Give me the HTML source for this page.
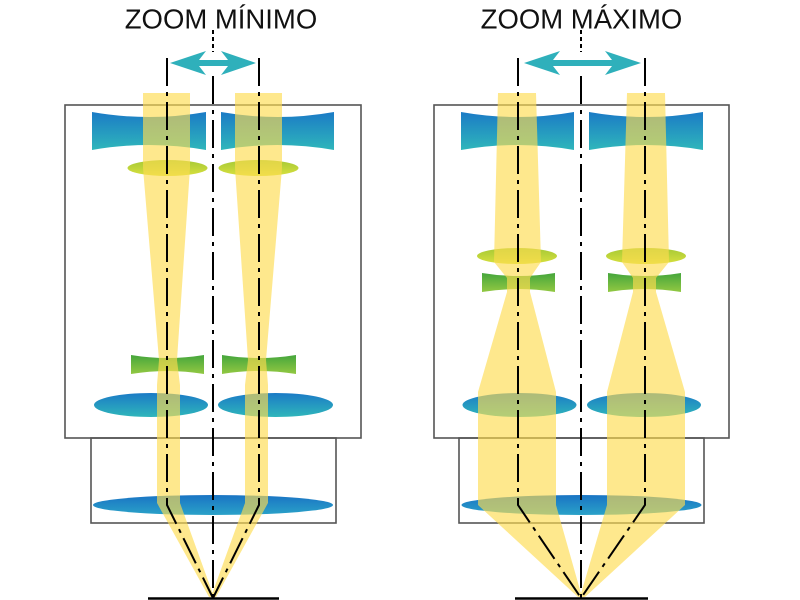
<!DOCTYPE html>
<html>
<head>
<meta charset="utf-8">
<style>
html,body{margin:0;padding:0;background:#fff;}
svg{display:block;}
</style>
</head>
<body>
<svg width="800" height="600" viewBox="0 0 800 600" xmlns="http://www.w3.org/2000/svg">
<defs>
<linearGradient id="gBlue" x1="0" y1="0" x2="0" y2="1">
<stop offset="0" stop-color="#1b7bc6"/>
<stop offset="1" stop-color="#2fb6bb"/>
</linearGradient>
<linearGradient id="gBig" x1="0" y1="0" x2="0" y2="1">
<stop offset="0" stop-color="#1a74c4"/>
<stop offset="1" stop-color="#2aa2c8"/>
</linearGradient>
<linearGradient id="gGreen" x1="0" y1="0" x2="0" y2="1">
<stop offset="0" stop-color="#45a63c"/>
<stop offset="1" stop-color="#92c842"/>
</linearGradient>
<linearGradient id="gYG" x1="0" y1="0" x2="0" y2="1">
<stop offset="0" stop-color="#a6c936"/>
<stop offset="1" stop-color="#d8e03e"/>
</linearGradient>
</defs>

<!-- Titles -->
<text x="221" y="28.5" text-anchor="middle" font-family="Liberation Sans, sans-serif" font-size="27.5" fill="#111">ZOOM MÍNIMO</text>
<text x="581.5" y="28.5" text-anchor="middle" font-family="Liberation Sans, sans-serif" font-size="27.5" fill="#111">ZOOM MÁXIMO</text>

<!-- Boxes -->
<g fill="none" stroke="#555" stroke-width="1.6">
<rect x="65" y="105" width="296" height="333"/>
<rect x="91" y="438" width="245" height="85"/>
<rect x="434" y="105" width="295" height="333"/>
<rect x="459" y="438" width="245" height="85"/>
</g>

<!-- LEFT PANEL lenses -->
<path d="M92,112 Q149,122 206,112 L206,150 Q149,140 92,150 Z" fill="url(#gBlue)"/>
<path d="M221,112 Q277.5,122 334,112 L334,150 Q277.5,140 221,150 Z" fill="url(#gBlue)"/>
<ellipse cx="167.5" cy="168" rx="40" ry="8" fill="url(#gYG)"/>
<ellipse cx="258.5" cy="168" rx="40" ry="8" fill="url(#gYG)"/>
<path d="M131,355 Q167.5,361 204,355 L204,374 Q167.5,368 131,374 Z" fill="url(#gGreen)"/>
<path d="M222,355 Q259,361 296,355 L296,374 Q259,368 222,374 Z" fill="url(#gGreen)"/>
<ellipse cx="151" cy="405" rx="57" ry="12" fill="url(#gBlue)"/>
<ellipse cx="275.5" cy="405" rx="57.5" ry="12" fill="url(#gBlue)"/>
<ellipse cx="213" cy="505" rx="120" ry="10" fill="url(#gBig)"/>

<!-- RIGHT PANEL lenses -->
<path d="M461,112 Q517.5,122 574,112 L574,150 Q517.5,140 461,150 Z" fill="url(#gBlue)"/>
<path d="M589,112 Q646,122 703,112 L703,150 Q646,140 589,150 Z" fill="url(#gBlue)"/>
<ellipse cx="517" cy="256" rx="40" ry="8" fill="url(#gYG)"/>
<ellipse cx="646" cy="256" rx="40" ry="8" fill="url(#gYG)"/>
<path d="M482,273 Q518.5,279 555,273 L555,292 Q518.5,286 482,292 Z" fill="url(#gGreen)"/>
<path d="M608,273 Q644.5,279 681,273 L681,292 Q644.5,286 608,292 Z" fill="url(#gGreen)"/>
<ellipse cx="519.5" cy="405" rx="57" ry="12" fill="url(#gBlue)"/>
<ellipse cx="644" cy="405" rx="57" ry="12" fill="url(#gBlue)"/>
<ellipse cx="581.5" cy="505" rx="120" ry="10" fill="url(#gBig)"/>

<!-- Beams -->
<g fill="#fddc50" fill-opacity="0.65">
<polygon points="143,93 190,93 190,168 177,360 180,385 180,503 214,597 209,597 157,503 157,385 159,360 143,168"/>
<polygon points="235,93 282,93 282,168 266,360 268,385 268,503 216,597 211,597 245,503 245,385 248,360 235,168"/>
<polygon points="498,93 536,93 541,262 530,278 530,292 556,392 556,505 582,597 578,597 478,505 478,392 507,292 507,278 494,262"/>
<polygon points="627,93 665,93 669,262 656,278 656,292 685,392 685,505 585,597 580,597 607,505 607,392 633,292 633,278 622,262"/>
</g>

<!-- Axis lines -->
<g fill="none" stroke="#000" stroke-width="2" stroke-dasharray="28 6 4 6">
<line x1="213" y1="76" x2="213" y2="598"/>
<polyline points="167,58 167,505 213,598"/>
<polyline points="259,58 259,505 213,598"/>
<line x1="581" y1="76" x2="581" y2="598"/>
<polyline points="518,58 518,505 581,598"/>
<polyline points="645,58 645,505 581,598"/>
</g>
<g stroke="#000" stroke-width="2" stroke-dasharray="4 3">
<line x1="213" y1="30" x2="213" y2="52"/>
<line x1="581" y1="30" x2="581" y2="52"/>
</g>

<!-- Arrows -->
<polygon fill="#2fb0bb" points="170,63 206,51 199,60 228,60 221,51 256,63 221,75 228,66 199,66 206,75"/>
<polygon fill="#2fb0bb" points="524,63 560,51 553,60 612,60 605,51 641,63 605,75 612,66 553,66 560,75"/>

<!-- Base lines -->
<g stroke="#000" stroke-width="2.5">
<line x1="148" y1="598.5" x2="279" y2="598.5"/>
<line x1="515" y1="598.5" x2="648" y2="598.5"/>
</g>
</svg>
</body>
</html>
